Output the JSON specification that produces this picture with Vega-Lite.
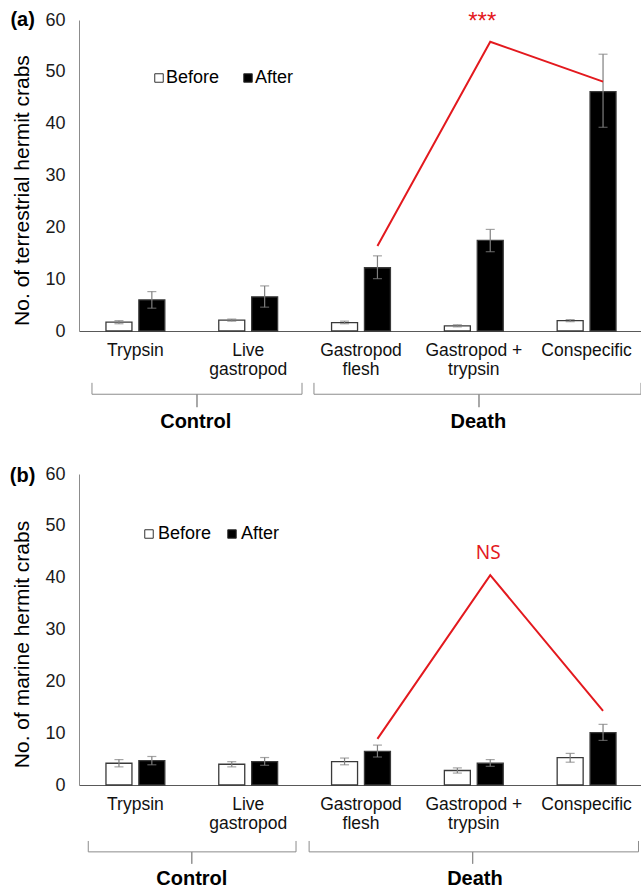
{
  "$schema": "https://vega.github.io/schema/vega-lite/v6.json",
  "padding": {"left": 9, "top": 10, "right": 0, "bottom": 2},
  "spacing": 32,
  "config": {
    "view": {"stroke": null},
    "font": "Liberation Sans",
    "axis": {"grid": false, "ticks": false, "tickSize": 0, "labelFont": "Liberation Sans", "titleFont": "Liberation Sans"},
    "legend": {"labelFont": "Liberation Sans"}
  },
  "resolve": {"legend": {"fill": "independent"}},
  "datasets": {
    "terrestrial": [
      {"treatment": "Trypsin", "time": "Before", "mean": 1.7, "lo": 1.4, "hi": 2.0},
      {"treatment": "Trypsin", "time": "After", "mean": 6.0, "lo": 4.4, "hi": 7.6},
      {"treatment": "Live gastropod", "time": "Before", "mean": 2.1, "lo": 1.9, "hi": 2.3},
      {"treatment": "Live gastropod", "time": "After", "mean": 6.6, "lo": 4.6, "hi": 8.7},
      {"treatment": "Gastropod flesh", "time": "Before", "mean": 1.6, "lo": 1.4, "hi": 1.9},
      {"treatment": "Gastropod flesh", "time": "After", "mean": 12.2, "lo": 10.1, "hi": 14.5},
      {"treatment": "Gastropod + trypsin", "time": "Before", "mean": 1.0, "lo": 0.8, "hi": 1.2},
      {"treatment": "Gastropod + trypsin", "time": "After", "mean": 17.5, "lo": 15.3, "hi": 19.6},
      {"treatment": "Conspecific", "time": "Before", "mean": 2.0, "lo": 1.8, "hi": 2.2},
      {"treatment": "Conspecific", "time": "After", "mean": 46.2, "lo": 39.3, "hi": 53.4}
    ],
    "marine": [
      {"treatment": "Trypsin", "time": "Before", "mean": 4.2, "lo": 3.5, "hi": 4.9},
      {"treatment": "Trypsin", "time": "After", "mean": 4.7, "lo": 3.9, "hi": 5.5},
      {"treatment": "Live gastropod", "time": "Before", "mean": 4.0, "lo": 3.5, "hi": 4.5},
      {"treatment": "Live gastropod", "time": "After", "mean": 4.5, "lo": 3.8, "hi": 5.3},
      {"treatment": "Gastropod flesh", "time": "Before", "mean": 4.5, "lo": 3.9, "hi": 5.2},
      {"treatment": "Gastropod flesh", "time": "After", "mean": 6.5, "lo": 5.4, "hi": 7.7},
      {"treatment": "Gastropod + trypsin", "time": "Before", "mean": 2.8, "lo": 2.3, "hi": 3.3},
      {"treatment": "Gastropod + trypsin", "time": "After", "mean": 4.2, "lo": 3.6, "hi": 4.9},
      {"treatment": "Conspecific", "time": "Before", "mean": 5.3, "lo": 4.4, "hi": 6.1},
      {"treatment": "Conspecific", "time": "After", "mean": 10.1, "lo": 8.6, "hi": 11.7}
    ],
    "sig_a": [
      {"treatment": "Gastropod flesh", "time": "After", "k": 1, "v": 16.4},
      {"treatment": "Gastropod + trypsin", "time": "After", "k": 2, "v": 55.8},
      {"treatment": "Conspecific", "time": "After", "k": 3, "v": 48.1}
    ],
    "sig_b": [
      {"treatment": "Gastropod flesh", "time": "After", "k": 1, "v": 8.9},
      {"treatment": "Gastropod + trypsin", "time": "After", "k": 2, "v": 40.5},
      {"treatment": "Conspecific", "time": "After", "k": 3, "v": 14.3}
    ],
    "label_a": [{"treatment": "Gastropod + trypsin", "time": "After", "v": 59.6, "text": "***"}],
    "label_b": [{"treatment": "Gastropod + trypsin", "time": "After", "v": 44.8, "text": "NS"}],
    "brackets_a": [
      {"grp": "Control", "k": 1, "pos": 0.115, "v": -10.0},
      {"grp": "Control", "k": 2, "pos": 0.115, "v": -12.2},
      {"grp": "Control", "k": 3, "pos": 1.046, "v": -12.2},
      {"grp": "Control", "k": 4, "pos": 1.046, "v": -14.7},
      {"grp": "Control", "k": 5, "pos": 1.046, "v": -12.2},
      {"grp": "Control", "k": 6, "pos": 1.977, "v": -12.2},
      {"grp": "Control", "k": 7, "pos": 1.977, "v": -10.0},
      {"grp": "Death", "k": 1, "pos": 2.083, "v": -10.0},
      {"grp": "Death", "k": 2, "pos": 2.083, "v": -12.2},
      {"grp": "Death", "k": 3, "pos": 3.546, "v": -12.2},
      {"grp": "Death", "k": 4, "pos": 3.546, "v": -14.7},
      {"grp": "Death", "k": 5, "pos": 3.546, "v": -12.2},
      {"grp": "Death", "k": 6, "pos": 4.982, "v": -12.2},
      {"grp": "Death", "k": 7, "pos": 4.982, "v": -10.0}
    ],
    "brackets_b": [
      {"grp": "Control", "k": 1, "pos": 0.082, "v": -10.8},
      {"grp": "Control", "k": 2, "pos": 0.082, "v": -12.9},
      {"grp": "Control", "k": 3, "pos": 1.0, "v": -12.9},
      {"grp": "Control", "k": 4, "pos": 1.0, "v": -15.2},
      {"grp": "Control", "k": 5, "pos": 1.0, "v": -12.9},
      {"grp": "Control", "k": 6, "pos": 1.924, "v": -12.9},
      {"grp": "Control", "k": 7, "pos": 1.924, "v": -10.8},
      {"grp": "Death", "k": 1, "pos": 2.04, "v": -10.8},
      {"grp": "Death", "k": 2, "pos": 2.04, "v": -12.9},
      {"grp": "Death", "k": 3, "pos": 3.49, "v": -12.9},
      {"grp": "Death", "k": 4, "pos": 3.49, "v": -15.2},
      {"grp": "Death", "k": 5, "pos": 3.49, "v": -12.9},
      {"grp": "Death", "k": 6, "pos": 4.96, "v": -12.9},
      {"grp": "Death", "k": 7, "pos": 4.96, "v": -10.8}
    ],
    "groups_a": [
      {"text": "Control", "pos": 1.035, "v": -17.6},
      {"text": "Death", "pos": 3.54, "v": -17.6},
      {"text": "(a)", "pos": -0.5, "v": 60.0}
    ],
    "groups_b": [
      {"text": "Control", "pos": 1.0, "v": -18.1},
      {"text": "Death", "pos": 3.51, "v": -18.1},
      {"text": "(b)", "pos": -0.5, "v": 59.7}
    ]
  },
  "vconcat": [
    {
      "width": 564,
      "height": 311,
      "resolve": {"scale": {"x": "independent"}},
      "layer": [
        {
          "layer": [
            {
              "data": {"name": "terrestrial"},
              "mark": {"type": "bar", "stroke": "#3a3a3a", "strokeWidth": 1.3},
              "encoding": {
                "x": {
                  "field": "treatment", "type": "nominal",
                  "scale": {"domain": ["Trypsin", "Live gastropod", "Gastropod flesh", "Gastropod + trypsin", "Conspecific"], "paddingInner": 0, "paddingOuter": 0},
                  "axis": {"title": null, "labelAngle": 0, "labelFontSize": 17.5, "labelColor": "#111111", "labelPadding": 10, "labelBaseline": "top", "labelLineHeight": 19, "labelOverlap": false, "labelBound": false, "domainColor": "#595959", "domainWidth": 1.2,
                    "labelExpr": "split(replace(datum.label, regexp(' ([^ ]+)$'), '|$1'), '|')"}
                },
                "xOffset": {"field": "time", "type": "nominal", "scale": {"domain": ["Before", "After"], "paddingInner": 0.21, "paddingOuter": 0.82}},
                "y": {
                  "field": "mean", "type": "quantitative",
                  "scale": {"domain": [0, 60], "nice": false},
                  "axis": {"values": [0, 10, 20, 30, 40, 50, 60], "title": "No. of terrestrial hermit crabs", "labelFontSize": 18, "labelColor": "#1a1a1a", "labelPadding": 14, "domainColor": "#8c8c8c", "titleFontSize": 21, "titleFontWeight": "normal", "titleColor": "#000000", "titleX": -57, "titleY": 170, "titleAngle": -90, "titleAlign": "center", "titleBaseline": "middle"}
                },
                "fill": {
                  "field": "time", "type": "nominal",
                  "scale": {"domain": ["Before", "After"], "range": ["#ffffff", "#000000"]},
                  "legend": {"title": null, "orient": "none", "legendX": 71, "legendY": 49, "direction": "horizontal", "symbolType": "square", "symbolSize": 72, "symbolStrokeColor": "#333333", "symbolStrokeWidth": 1, "labelFontSize": 18, "labelColor": "#000000", "labelOffset": -2, "columnPadding": 19, "padding": 0}
                }
              }
            },
            {
              "data": {"name": "terrestrial"},
              "mark": {"type": "rule", "color": "#7f7f7f", "strokeWidth": 1.2},
              "encoding": {
                "x": {"field": "treatment", "type": "nominal"},
                "xOffset": {"field": "time", "type": "nominal"},
                "y": {"field": "lo", "type": "quantitative"},
                "y2": {"field": "hi"}
              }
            },
            {
              "data": {"name": "terrestrial"},
              "mark": {"type": "tick", "orient": "horizontal", "size": 9, "thickness": 1.2, "color": "#7f7f7f"},
              "encoding": {
                "x": {"field": "treatment", "type": "nominal"},
                "xOffset": {"field": "time", "type": "nominal"},
                "y": {"field": "lo", "type": "quantitative"}
              }
            },
            {
              "data": {"name": "terrestrial"},
              "mark": {"type": "tick", "orient": "horizontal", "size": 9, "thickness": 1.2, "color": "#7f7f7f"},
              "encoding": {
                "x": {"field": "treatment", "type": "nominal"},
                "xOffset": {"field": "time", "type": "nominal"},
                "y": {"field": "hi", "type": "quantitative"}
              }
            },
            {
              "data": {"name": "sig_a"},
              "mark": {"type": "line", "color": "#e3191e", "strokeWidth": 2},
              "encoding": {
                "x": {"field": "treatment", "type": "nominal"},
                "xOffset": {"field": "time", "type": "nominal"},
                "y": {"field": "v", "type": "quantitative"},
                "order": {"field": "k"}
              }
            },
            {
              "data": {"name": "label_a"},
              "mark": {"type": "text", "color": "#e3191e", "fontSize": 24, "font": "Liberation Sans", "baseline": "middle", "align": "center", "dx": -8},
              "encoding": {
                "x": {"field": "treatment", "type": "nominal"},
                "xOffset": {"field": "time", "type": "nominal"},
                "y": {"field": "v", "type": "quantitative"},
                "text": {"field": "text"}
              }
            }
          ]
        },
        {
          "layer": [
            {
              "data": {"name": "brackets_a"},
              "mark": {"type": "line", "color": "#8c8c8c", "strokeWidth": 1},
              "encoding": {
                "x": {"field": "pos", "type": "quantitative", "scale": {"domain": [0, 5], "nice": false, "zero": false}, "axis": {"title": null, "domain": false, "labels": false, "ticks": false, "grid": false}},
                "y": {"field": "v", "type": "quantitative"},
                "detail": {"field": "grp"},
                "order": {"field": "k"}
              }
            },
            {
              "data": {"name": "groups_a"},
              "mark": {"type": "text", "fontSize": 20, "fontWeight": "bold", "color": "#000000", "baseline": "middle", "align": "center"},
              "encoding": {
                "x": {"field": "pos", "type": "quantitative", "axis": {"title": null, "domain": false, "labels": false, "ticks": false, "grid": false}},
                "y": {"field": "v", "type": "quantitative"},
                "text": {"field": "text"}
              }
            }
          ]
        }
      ]
    },
    {
      "width": 564,
      "height": 311,
      "resolve": {"scale": {"x": "independent"}},
      "layer": [
        {
          "layer": [
            {
              "data": {"name": "marine"},
              "mark": {"type": "bar", "stroke": "#3a3a3a", "strokeWidth": 1.3},
              "encoding": {
                "x": {
                  "field": "treatment", "type": "nominal",
                  "scale": {"domain": ["Trypsin", "Live gastropod", "Gastropod flesh", "Gastropod + trypsin", "Conspecific"], "paddingInner": 0, "paddingOuter": 0},
                  "axis": {"title": null, "labelAngle": 0, "labelFontSize": 17.5, "labelColor": "#111111", "labelPadding": 10, "labelBaseline": "top", "labelLineHeight": 19, "labelOverlap": false, "labelBound": false, "domainColor": "#595959", "domainWidth": 1.2,
                    "labelExpr": "split(replace(datum.label, regexp(' ([^ ]+)$'), '|$1'), '|')"}
                },
                "xOffset": {"field": "time", "type": "nominal", "scale": {"domain": ["Before", "After"], "paddingInner": 0.21, "paddingOuter": 0.82}},
                "y": {
                  "field": "mean", "type": "quantitative",
                  "scale": {"domain": [0, 60], "nice": false},
                  "axis": {"values": [0, 10, 20, 30, 40, 50, 60], "title": "No. of marine hermit crabs", "labelFontSize": 18, "labelColor": "#1a1a1a", "labelPadding": 14, "domainColor": "#8c8c8c", "titleFontSize": 21, "titleFontWeight": "normal", "titleColor": "#000000", "titleX": -57, "titleY": 170, "titleAngle": -90, "titleAlign": "center", "titleBaseline": "middle"}
                },
                "fill": {
                  "field": "time", "type": "nominal",
                  "scale": {"domain": ["Before", "After"], "range": ["#ffffff", "#000000"]},
                  "legend": {"title": null, "orient": "none", "legendX": 61, "legendY": 51, "direction": "horizontal", "symbolType": "square", "symbolSize": 72, "symbolStrokeColor": "#333333", "symbolStrokeWidth": 1, "labelFontSize": 18, "labelColor": "#000000", "labelOffset": 0, "columnPadding": 11, "padding": 0}
                }
              }
            },
            {
              "data": {"name": "marine"},
              "mark": {"type": "rule", "color": "#7f7f7f", "strokeWidth": 1.2},
              "encoding": {
                "x": {"field": "treatment", "type": "nominal"},
                "xOffset": {"field": "time", "type": "nominal"},
                "y": {"field": "lo", "type": "quantitative"},
                "y2": {"field": "hi"}
              }
            },
            {
              "data": {"name": "marine"},
              "mark": {"type": "tick", "orient": "horizontal", "size": 9, "thickness": 1.2, "color": "#7f7f7f"},
              "encoding": {
                "x": {"field": "treatment", "type": "nominal"},
                "xOffset": {"field": "time", "type": "nominal"},
                "y": {"field": "lo", "type": "quantitative"}
              }
            },
            {
              "data": {"name": "marine"},
              "mark": {"type": "tick", "orient": "horizontal", "size": 9, "thickness": 1.2, "color": "#7f7f7f"},
              "encoding": {
                "x": {"field": "treatment", "type": "nominal"},
                "xOffset": {"field": "time", "type": "nominal"},
                "y": {"field": "hi", "type": "quantitative"}
              }
            },
            {
              "data": {"name": "sig_b"},
              "mark": {"type": "line", "color": "#e3191e", "strokeWidth": 2},
              "encoding": {
                "x": {"field": "treatment", "type": "nominal"},
                "xOffset": {"field": "time", "type": "nominal"},
                "y": {"field": "v", "type": "quantitative"},
                "order": {"field": "k"}
              }
            },
            {
              "data": {"name": "label_b"},
              "mark": {"type": "text", "color": "#e3191e", "fontSize": 19, "font": "Noto Sans", "baseline": "middle", "align": "center", "dx": -2},
              "encoding": {
                "x": {"field": "treatment", "type": "nominal"},
                "xOffset": {"field": "time", "type": "nominal"},
                "y": {"field": "v", "type": "quantitative"},
                "text": {"field": "text"}
              }
            }
          ]
        },
        {
          "layer": [
            {
              "data": {"name": "brackets_b"},
              "mark": {"type": "line", "color": "#8c8c8c", "strokeWidth": 1},
              "encoding": {
                "x": {"field": "pos", "type": "quantitative", "scale": {"domain": [0, 5], "nice": false, "zero": false}, "axis": {"title": null, "domain": false, "labels": false, "ticks": false, "grid": false}},
                "y": {"field": "v", "type": "quantitative"},
                "detail": {"field": "grp"},
                "order": {"field": "k"}
              }
            },
            {
              "data": {"name": "groups_b"},
              "mark": {"type": "text", "fontSize": 20, "fontWeight": "bold", "color": "#000000", "baseline": "middle", "align": "center"},
              "encoding": {
                "x": {"field": "pos", "type": "quantitative", "axis": {"title": null, "domain": false, "labels": false, "ticks": false, "grid": false}},
                "y": {"field": "v", "type": "quantitative"},
                "text": {"field": "text"}
              }
            }
          ]
        }
      ]
    }
  ]
}
